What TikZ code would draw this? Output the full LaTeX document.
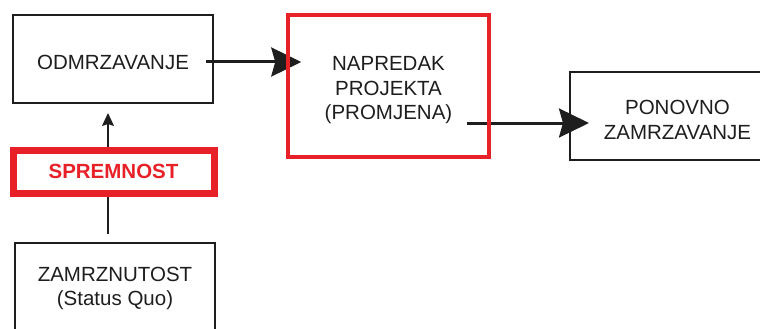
\documentclass[tikz,border=0pt]{standalone}
\usepackage{fontspec}
\setmainfont{Liberation Sans}
\usetikzlibrary{arrows.meta,calc}
\definecolor{boxred}{RGB}{232,33,41}
\definecolor{ink}{RGB}{30,30,30}
\pgfdeclarelayer{behind}
\pgfsetlayers{behind,main}
\newcommand\lowtext[2][5.5pt]{\raisebox{-#1}[\height][\depth]{\begin{tabular}{@{}c@{}}#2\end{tabular}}}
\begin{document}
\begin{tikzpicture}[x=1pt,y=-1pt,
  txt/.style={font=\fontsize{20.5}{24.5}\selectfont, text=ink, inner sep=0pt},
  blackbox/.style={txt, draw=ink, line width=2pt},
  redbox/.style={txt, draw=boxred, line width=3.5pt},
  readybox/.style={txt, draw=boxred, line width=7pt, text=boxred, font=\fontsize{20.5}{24.5}\selectfont\bfseries},
  bigarrow/.style={draw=ink, line width=3pt, -{Stealth[length=30pt,width=29pt,inset=4pt]}},
  smallarrow/.style={draw=ink, line width=1.6pt, -{Stealth[length=13pt,width=12pt,inset=2pt]}}
]
\useasboundingbox (0,0) rectangle (760,329);
\clip (0,0) rectangle (760,329);
\node[blackbox, minimum width=200pt, minimum height=88pt] (odm) at (113,59) {\lowtext{ODMRZAVANJE}};
\node[redbox, minimum width=201pt, minimum height=142pt] (nap) at (388.5,86) {\lowtext[4.5pt]{NAPREDAK\\PROJEKTA\\(PROMJENA)}};
\node[blackbox, minimum width=215pt, minimum height=88pt] (pon) at (677.5,116) {\lowtext[6pt]{PONOVNO\\ZAMRZAVANJE}};
\node[readybox, minimum width=201pt, minimum height=43pt] (spr) at (113.5,171.5) {SPREMNOST};
\node[blackbox, minimum width=200pt, minimum height=88pt] (zam) at (115,287) {\lowtext[1.5pt]{ZAMRZNUTOST\\(Status Quo)}};
\begin{pgfonlayer}{behind}
\draw[bigarrow] ($(odm.east)+(-8,3)$) -- ($(odm.east -| nap.west)+(15,3)$);
\draw[bigarrow] ($(nap.east)+(-24,37)$) -- ($(nap.east -| pon.west)+(20,37)$);
\draw[draw=ink, line width=1.6pt, shorten <=8pt] ($(zam.north)+(-7,0)$) -- ($(zam.north |- spr.south)+(-7,0)$);
\draw[smallarrow, shorten >=9pt] ($(spr.north)+(-5.5,0)$) -- ($(spr.north |- odm.south)+(-5.5,0)$);
\end{pgfonlayer}
\end{tikzpicture}
\end{document}
